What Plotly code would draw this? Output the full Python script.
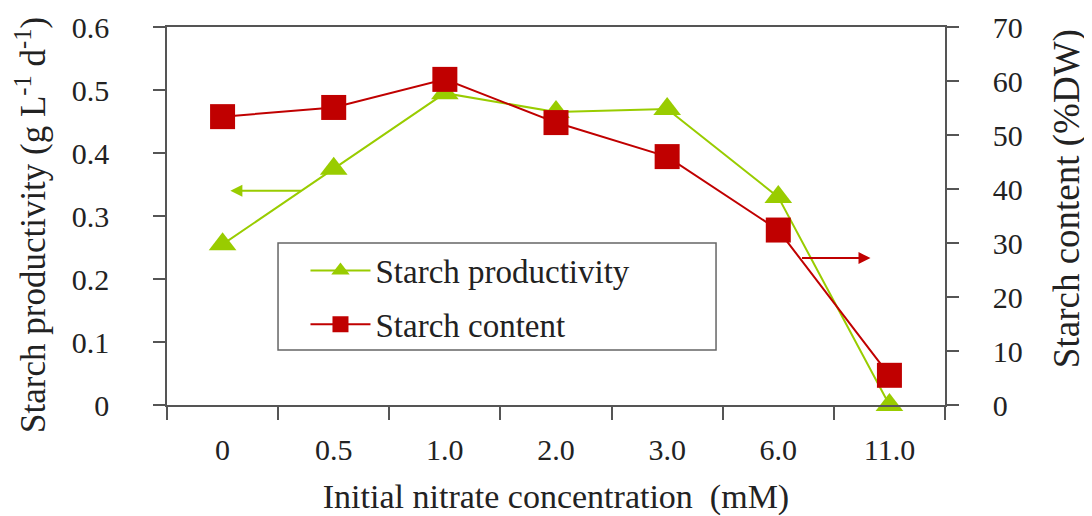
import plotly.graph_objects as go

categories = ["0", "0.5", "1.0", "2.0", "3.0", "6.0", "11.0"]
productivity = [0.255, 0.375, 0.495, 0.465, 0.47, 0.33, 0.0]
content = [53.4, 55.1, 60.3, 52.3, 46.0, 32.4, 5.5]

FONT = "Liberation Serif"
GREEN = "#99CC00"
RED = "#C00000"
AXC = "#555555"

fig = go.Figure()
fig.add_trace(go.Scatter(
    x=categories, y=productivity, name="Starch productivity", yaxis="y",
    mode="lines+markers", line=dict(color=GREEN, width=2),
    marker=dict(symbol="triangle-up", size=24, color=GREEN),
    cliponaxis=False, legendgroup="a"))
fig.add_trace(go.Scatter(
    x=categories, y=content, name="Starch content", yaxis="y2",
    mode="lines+markers", line=dict(color=RED, width=2),
    marker=dict(symbol="square", size=25, color=RED),
    cliponaxis=False, legendgroup="b"))

fig.update_layout(
    width=1084, height=508,
    margin=dict(l=159, r=147, t=19, b=111, autoexpand=False),
    paper_bgcolor="white", plot_bgcolor="white",
    font=dict(family=FONT, size=30, color="#222222"),
    showlegend=True,
    legend=dict(x=0.178, y=0.43, xanchor="left", yanchor="top",
                borderwidth=0, bgcolor="rgba(0,0,0,0)",
                font=dict(family=FONT, size=33), itemwidth=60,
                tracegroupgap=8),
    xaxis=dict(type="category", tickson="boundaries", ticks="outside",
               ticklen=13, tickcolor=AXC, tickwidth=1.5, automargin=False,
               showline=True, linecolor=AXC, linewidth=1.5, mirror=True,
               showgrid=False, range=[-0.5, 6.5], ticklabelstandoff=17,
               title=dict(text="Initial nitrate concentration  (mM)",
                          standoff=21, font=dict(size=34))),
    yaxis=dict(range=[0, 0.6], dtick=0.1, ticks="outside", ticklen=12,
               tickcolor=AXC, tickwidth=1.5, showline=True, linecolor=AXC,
               linewidth=1.5, showgrid=False, zeroline=False, automargin=False,
               ticklabelstandoff=38),
    yaxis2=dict(range=[0, 70], dtick=10, overlaying="y", side="right",
                ticks="outside", ticklen=12, tickcolor=AXC, tickwidth=1.5,
                showline=True, linecolor=AXC, linewidth=1.5, showgrid=False,
                zeroline=False, automargin=False, ticklabelstandoff=28),
)

# axis titles (placed like the reference)
fig.add_annotation(text="Starch productivity (g L<sup>-1</sup> d<sup>-1</sup>)",
                   xref="paper", yref="paper", x=-0.175, y=0.476,
                   xanchor="center", yanchor="middle", textangle=-90,
                   showarrow=False, font=dict(family=FONT, size=35))
fig.add_annotation(text="Starch content (%DW)",
                   xref="paper", yref="paper", x=1.157, y=0.545,
                   xanchor="center", yanchor="middle", textangle=-90,
                   showarrow=False, font=dict(family=FONT, size=37))

# legend frame
fig.add_shape(type="rect", xref="paper", yref="paper",
              x0=0.1427, x1=0.7057, y0=0.1455, y1=0.4286,
              line=dict(color="#666666", width=1.5), layer="above")

# direction arrows
fig.add_annotation(x=0.07, y=0.34, ax=0.72, ay=0.34, xref="x", yref="y",
                   axref="x", ayref="y", text="", showarrow=True,
                   arrowhead=2, arrowsize=1.2, arrowwidth=2, arrowcolor=GREEN)
fig.add_annotation(x=5.83, y=27.2, ax=5.2, ay=27.2, xref="x", yref="y2",
                   axref="x", ayref="y2", text="", showarrow=True,
                   arrowhead=2, arrowsize=1.2, arrowwidth=2, arrowcolor=RED)

fig.write_html("out.html")
